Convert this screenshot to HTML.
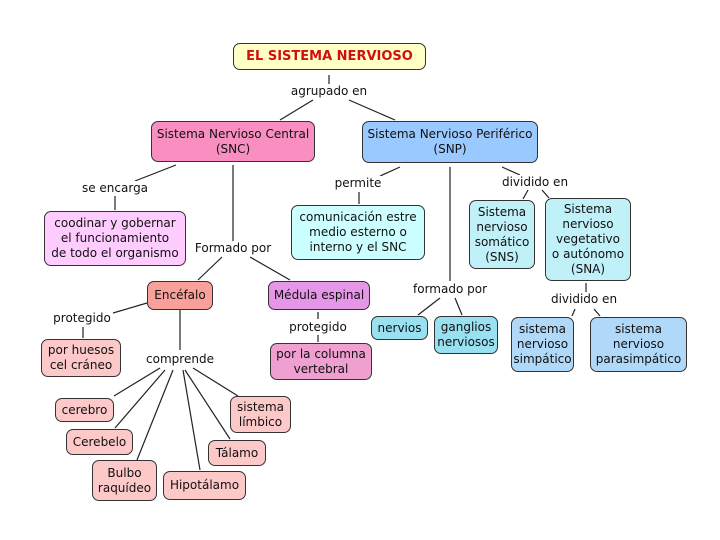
<!DOCTYPE html>
<html><head><meta charset="utf-8"><style>
body{margin:0;width:720px;height:540px;background:#fff;position:relative;overflow:hidden;font-family:"DejaVu Sans","Liberation Sans",sans-serif;font-size:12px;color:#111}
.n{position:absolute;box-sizing:border-box;border:1.3px solid #333;border-radius:7px;display:flex;align-items:center;justify-content:center;text-align:center;line-height:15px}
.l{position:absolute;transform:translate(-50%,-50%);white-space:nowrap;background:#fff;padding:0 1px}
svg{position:absolute;left:0;top:0}
</style></head><body>
<svg width="720" height="540" stroke="#222" stroke-width="1.2">
<line x1="329" y1="75" x2="329" y2="85"/>
<line x1="313" y1="100" x2="280" y2="120"/><line x1="349" y1="100" x2="395" y2="120"/>
<line x1="176" y1="165" x2="135" y2="181"/><line x1="115" y1="196" x2="115" y2="210"/>
<line x1="233" y1="165" x2="233" y2="241"/>
<line x1="222" y1="257" x2="198" y2="280"/><line x1="250" y1="257" x2="290" y2="280"/>
<line x1="147" y1="303" x2="113" y2="313"/><line x1="83" y1="327" x2="83" y2="338"/>
<line x1="180" y1="310" x2="180" y2="350"/>
<line x1="318" y1="312" x2="318" y2="319"/><line x1="318" y1="335" x2="318" y2="342"/>
<line x1="160" y1="368" x2="114" y2="396"/><line x1="165" y1="370" x2="115" y2="428"/>
<line x1="173" y1="370" x2="137" y2="460"/><line x1="183" y1="370" x2="200" y2="470"/>
<line x1="185" y1="370" x2="230" y2="439"/><line x1="193" y1="368" x2="238" y2="396"/>
<line x1="400" y1="167" x2="380" y2="176"/><line x1="359" y1="192" x2="359" y2="204"/>
<line x1="450" y1="167" x2="450" y2="281"/>
<line x1="440" y1="298" x2="418" y2="315"/><line x1="455" y1="298" x2="462" y2="315"/>
<line x1="502" y1="167" x2="520" y2="175"/>
<line x1="528" y1="190" x2="523" y2="199"/><line x1="542" y1="190" x2="549" y2="198"/>
<line x1="586" y1="283" x2="586" y2="292"/>
<line x1="575" y1="309" x2="572" y2="316"/><line x1="594" y1="309" x2="600" y2="316"/>
</svg>
<div class="n" style="left:233px;top:43px;width:193px;height:27px;background:#ffffc6;color:#d01010;font-weight:bold;font-size:13px">EL SISTEMA NERVIOSO</div>
<div class="l" style="left:329px;top:91px">agrupado en</div>
<div class="n" style="left:151px;top:121px;width:164px;height:41px;background:#f98fc0">Sistema Nervioso Central<br>(SNC)</div>
<div class="n" style="left:362px;top:121px;width:176px;height:42px;background:#99c9ff">Sistema Nervioso Periférico<br>(SNP)</div>
<div class="l" style="left:115px;top:188px">se encarga</div>
<div class="n" style="left:44px;top:211px;width:142px;height:55px;background:#ffccff">coodinar y gobernar<br>el funcionamiento<br>de todo el organismo</div>
<div class="l" style="left:233px;top:248px">Formado por</div>
<div class="n" style="left:147px;top:281px;width:66px;height:29px;background:#f9a09a">Encéfalo</div>
<div class="n" style="left:268px;top:281px;width:102px;height:29px;background:#e696e6">Médula espinal</div>
<div class="l" style="left:82px;top:318px">protegido</div>
<div class="n" style="left:41px;top:339px;width:80px;height:38px;background:#fcc8c8">por huesos<br>cel cráneo</div>
<div class="l" style="left:180px;top:359px">comprende</div>
<div class="l" style="left:318px;top:327px">protegido</div>
<div class="n" style="left:270px;top:343px;width:102px;height:37px;background:#f0a0d0">por la columna<br>vertebral</div>
<div class="n" style="left:55px;top:398px;width:59px;height:24px;background:#fcc8c8">cerebro</div>
<div class="n" style="left:66px;top:429px;width:67px;height:26px;background:#fcc8c8">Cerebelo</div>
<div class="n" style="left:92px;top:460px;width:65px;height:41px;background:#fcc8c8">Bulbo<br>raquídeo</div>
<div class="n" style="left:163px;top:471px;width:83px;height:29px;background:#fcc8c8">Hipotálamo</div>
<div class="n" style="left:208px;top:440px;width:58px;height:26px;background:#fcc8c8">Tálamo</div>
<div class="n" style="left:230px;top:396px;width:61px;height:37px;background:#fcc8c8">sistema<br>límbico</div>
<div class="l" style="left:358px;top:183px">permite</div>
<div class="n" style="left:291px;top:205px;width:134px;height:55px;background:#ccffff">comunicación estre<br>medio esterno o<br>interno y el SNC</div>
<div class="l" style="left:450px;top:289px">formado por</div>
<div class="n" style="left:371px;top:316px;width:57px;height:24px;background:#99e0f0">nervios</div>
<div class="n" style="left:434px;top:316px;width:64px;height:38px;background:#99e0f0">ganglios<br>nerviosos</div>
<div class="l" style="left:535px;top:182px">dividido en</div>
<div class="n" style="left:469px;top:200px;width:66px;height:69px;background:#c0f0f8">Sistema<br>nervioso<br>somático<br>(SNS)</div>
<div class="n" style="left:545px;top:198px;width:86px;height:83px;background:#c0f0f8">Sistema<br>nervioso<br>vegetativo<br>o autónomo<br>(SNA)</div>
<div class="l" style="left:584px;top:299px">dividido en</div>
<div class="n" style="left:511px;top:317px;width:63px;height:55px;background:#b0d8f8">sistema<br>nervioso<br>simpático</div>
<div class="n" style="left:590px;top:317px;width:97px;height:55px;background:#b0d8f8">sistema<br>nervioso<br>parasimpático</div>
</body></html>
